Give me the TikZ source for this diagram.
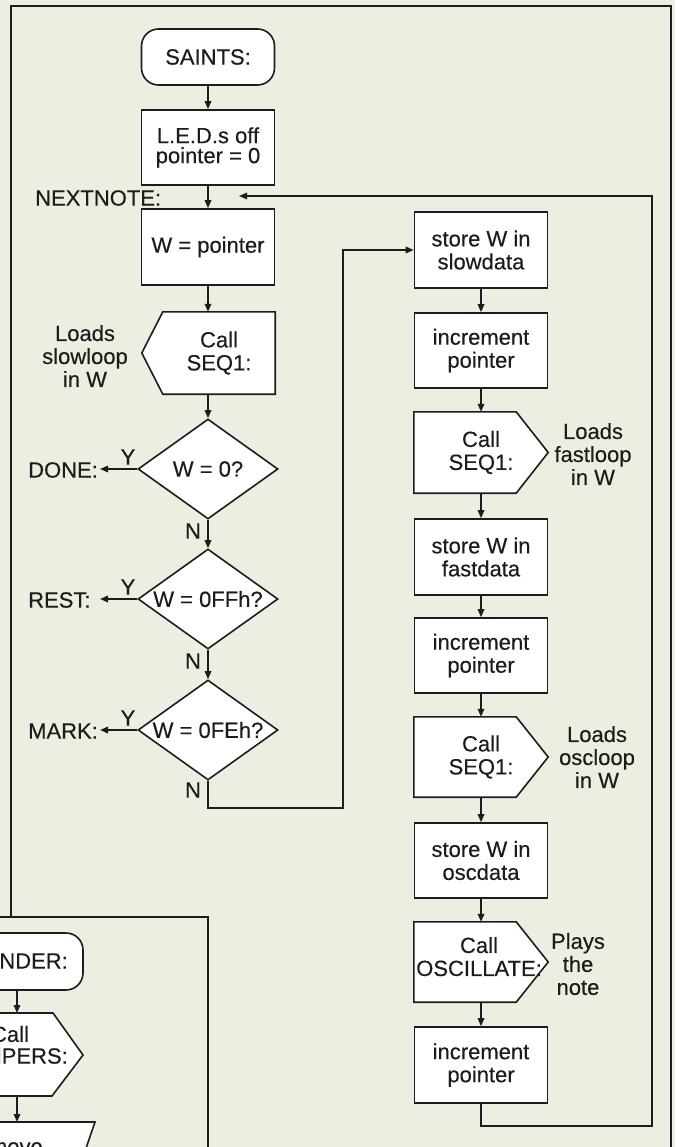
\documentclass[tikz,border=0pt]{standalone}
\usepackage{fontspec}
\setmainfont{Liberation Sans}[FakeBold=0.3]
\usetikzlibrary{arrows.meta,shapes.geometric}
\definecolor{paper}{RGB}{237,237,226}
\definecolor{ink}{RGB}{28,28,28}
\pgfdeclarelayer{back}
\pgfdeclarelayer{mid}
\pgfsetlayers{back,mid,main}
\newcommand\fsz{\fontsize{22}{23}\selectfont}
\tikzset{
  every node/.style={font=\fsz, text=ink},
  ln/.style={line width=1.6pt, draw=ink},
  arr/.style={ln, -{Triangle[length=8pt,width=6.5pt]}},
  frame/.style={line width=1.6pt, draw=ink},
  procbox/.style={draw=ink, line width=1.6pt, fill=white, rectangle, minimum width=133pt, minimum height=76pt, inner sep=0pt, align=center},
  termbox/.style={procbox, rounded corners=17pt, minimum height=56pt},
  decbox/.style={draw=ink, line width=1.6pt, fill=white, diamond, aspect=1.4, minimum width=140pt, minimum height=100pt, inner sep=0pt},
  callbox/.style={rectangle, minimum width=134pt, minimum height=81pt, inner sep=0pt, align=center},
  callshape/.style={draw=ink, line width=1.6pt, fill=white, line join=miter},
  note/.style={align=center, inner sep=0pt},
  lab/.style={inner sep=0pt},
}
\begin{document}
\begin{tikzpicture}[x=1pt,y=-1pt]
\useasboundingbox (0,0) rectangle (675,1147);
\begin{pgfonlayer}{back}
\fill[paper] (0,0) rectangle (675,1147);
\end{pgfonlayer}
\clip (0,0) rectangle (675,1147);

% frames
\draw[frame] (11,917) -- (11,6) -- (671,6) -- (671,1152);
\draw[frame] (-5,917) -- (208,917) -- (208,1152);

% left column
\node[termbox] (saints) at (208,57) {SAINTS:};
\node[procbox, minimum height=75pt, font={\fontsize{22}{20}\selectfont}] (leds) at (208,147.5) {L.E.D.s off\\pointer = 0};
\node[procbox] (wptr) at (208,247) {W = pointer};
\node[callbox, minimum width=112pt, minimum height=82pt] (seqa) at (219,353) {Call\\SEQ1:};
\node[decbox] (d0) at (208,469) {W = 0?};
\node[decbox] (d1) at (208,599) {W = 0FFh?};
\node[decbox] (d2) at (208,730) {W = 0FEh?};

% right column
\node[procbox] (slow) at (481,250) {store W in\\slowdata};
\node[procbox, minimum height=75pt] (inc1) at (481,350.5) {increment\\pointer};
\node[callbox] (seqb) at (481,452.5) {Call\\SEQ1:};
\node[procbox] (fast) at (481,557) {store W in\\fastdata};
\node[procbox, minimum height=75pt] (inc2) at (481,655.5) {increment\\pointer};
\node[callbox, minimum height=80pt] (seqc) at (481,757) {Call\\SEQ1:};
\node[procbox, minimum height=75pt] (osc) at (481,860.5) {store W in\\oscdata};
\node[callbox, minimum height=80pt] (oscil) at (479,962) {Call\\OSCILLATE:\\[-12pt]\mbox{}};
\node[procbox] (inc3) at (481,1065) {increment\\pointer};

% call shapes outlines
\begin{pgfonlayer}{mid}
\draw[callshape] (seqa.north west) -- (seqa.north east) -- (seqa.south east) -- (seqa.south west) -- ([xshift=-21pt]seqa.west) -- cycle;
\foreach \n in {seqb,seqc}
  \draw[callshape] (\n.north west) -- ([xshift=-32pt]\n.north east) -- (\n.east) -- ([xshift=-32pt]\n.south east) -- (\n.south west) -- cycle;
\draw[callshape] ([xshift=2pt]oscil.north west) -- ([xshift=-30pt]oscil.north east) -- ([xshift=2pt]oscil.east) -- ([xshift=-30pt]oscil.south east) -- ([xshift=2pt]oscil.south west) -- cycle;
\end{pgfonlayer}

% side notes
\node[note] (lslow) at (85,356) {Loads\\slowloop\\in W};
\node[note] (lfast) at (593,454) {Loads\\fastloop\\in W};
\node[note] (losc) at (597,757) {Loads\\oscloop\\in W};
\node[note] (lplay) at (578,964) {Plays\\the\\note};

% exit labels
\node[lab, anchor=west] (done) at (28,470) {DONE:};
\node[lab, anchor=west] (rest) at (28,600) {REST:};
\node[lab, anchor=west] (mark) at (28,731) {MARK:};
\coordinate (donetip) at (100,469);
\coordinate (resttip) at (100,599);
\coordinate (marktip) at (100,730);
\node[lab] (y0) at (128,457) {Y};
\node[lab] (y1) at (128,587) {Y};
\node[lab] (y2) at (128,718) {Y};
\node[lab] (n0) at (193,531) {N};
\node[lab] (n1) at (193,661) {N};
\node[lab] (n2) at (193,790) {N};
\node[lab, anchor=west] (nextnote) at (35,198) {NEXTNOTE:};

% connectors left
\draw[arr] (saints) -- (leds);
\draw[arr] (leds) -- (wptr);
\draw[arr] (wptr.south) -- (wptr.south |- seqa.north);
\draw[arr] (d0.north |- seqa.south) -- (d0.north);
\draw[arr] (d0) -- (d1);
\draw[arr] (d1) -- (d2);
\draw[arr] (d0.west) -- (donetip);
\draw[arr] (d1.west) -- (resttip);
\draw[arr] (d2.west) -- (marktip);
\coordinate (c1) at (343,808);
\draw[arr] (d2.south) |- (c1) |- (slow.west);

% connectors right
\draw[arr] (slow) -- (inc1);
\draw[arr] (inc1) -- (seqb);
\draw[arr] (seqb) -- (fast);
\draw[arr] (fast) -- (inc2);
\draw[arr] (inc2) -- (seqc);
\draw[arr] (seqc) -- (osc);
\draw[arr] (osc) -- (inc3 |- oscil.north);
\draw[arr] (inc3 |- oscil.south) -- (inc3);
\coordinate (lp) at (652,1126);
\coordinate (nn) at (239,196);
\draw[arr] (inc3.south) |- (lp) |- (nn);

% lower-left panel (cut off)
\node[termbox, minimum width=113pt, minimum height=57pt] (blend) at (26.5,961.5) {};
\node[lab, anchor=east] (blendtxt) at (68,961) {NDER:};
\draw[ln, fill=white, line join=miter] (-30,1013) -- (53,1013) -- (83,1055) -- (52,1096) -- (-30,1096) -- cycle;
\node[lab] (jcall) at (10,1034) {Call};
\node[lab, anchor=east] (jmp) at (68,1056) {MPERS:};
\draw[ln, fill=white, line join=miter] (-30,1122) -- (95,1122) -- (82,1160) -- (-30,1160) -- cycle;
\node[lab, anchor=base east] (mv) at (43,1154) {move};
\coordinate (b1) at (17,990);
\coordinate (j1) at (17,1013);
\coordinate (j2) at (17,1096);
\coordinate (m1) at (17,1122);
\draw[arr] (b1) -- (j1);
\draw[arr] (j2) -- (m1);
\end{tikzpicture}
\end{document}
